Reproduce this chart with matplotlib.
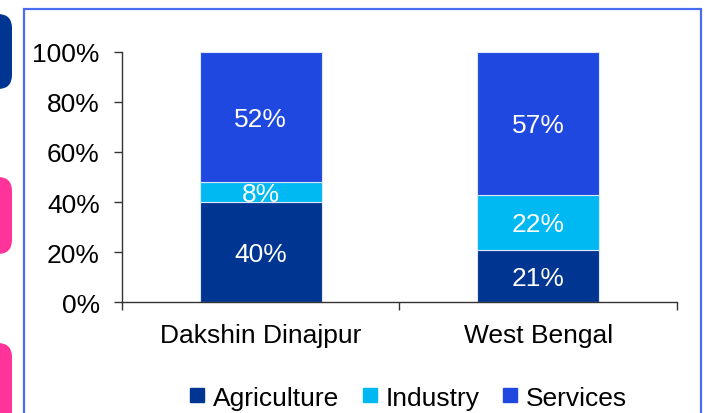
import matplotlib.pyplot as plt
import numpy as np
from matplotlib.patches import Rectangle, FancyBboxPatch
from matplotlib.lines import Line2D

plt.rcParams['font.family'] = ['Liberation Sans', 'DejaVu Sans']

regions = ["Dakshin Dinajpur", "West Bengal"]
sectors = ["Agriculture", "Industry", "Services"]
agriculture = [40, 21]
industry = [8, 22]
services = [52, 57]
yticks = [0, 20, 40, 60, 80, 100]
colors = ["#003591", "#00B9F2", "#1F48E0"]

fig = plt.figure(figsize=(7.05, 4.14), dpi=100)
ax = fig.add_axes([0.1730, 0.2681, 0.7872, 0.6039])

x = np.arange(len(regions))
bottom = np.zeros(len(regions))
for vals, col in zip([agriculture, industry, services], colors):
    vals = np.array(vals, dtype=float)
    ax.bar(x, vals, 0.44, bottom=bottom, color=col, edgecolor="#dfe6f7", linewidth=0.8)
    for xi, b, v in zip(x, bottom, vals):
        ax.text(xi, b + v / 2 - 0.7, f"{int(v)}%", ha="center", va="center",
                color="white", fontsize=19)
    bottom += vals

ax.set_xlim(-0.5, 1.5)
ax.set_ylim(0, 100)
ax.set_yticks(yticks)
ax.set_yticklabels([f"{t}%" for t in yticks], fontsize=19)
ax.set_xticks(x)
ax.set_xticklabels(regions, fontsize=19)
ax.set_xticks([-0.5, 0.5, 1.5], minor=True)
ax.tick_params(axis="x", which="major", length=0, pad=15)
ax.tick_params(axis="x", which="minor", length=6, width=1, color="#333333")
ax.tick_params(axis="y", length=6, width=1, color="#333333", pad=10)
for s in ["top", "right"]:
    ax.spines[s].set_visible(False)
for s in ["left", "bottom"]:
    ax.spines[s].set_color("#333333")
    ax.spines[s].set_linewidth(1)

handles = [Line2D([], [], marker="s", linestyle="none", markersize=9.5,
                  markerfacecolor=c, markeredgecolor=c) for c in colors]
fig.legend(handles, sectors, loc="center", bbox_to_anchor=(0.580, 0.037), ncol=3,
           frameon=False, fontsize=19, handlelength=0.5, handletextpad=0.35,
           columnspacing=0.9)

# slide frame and side tabs
fig.patches.append(Rectangle((24 / 705, -0.05), 677 / 705, 1 - 10 / 414 + 0.05,
                             transform=fig.transFigure, fill=False,
                             edgecolor="#4a6cf0", linewidth=1.6))
tabs = [(15, 90, "#003591"), (178, 255, "#FF3399"), (344, 440, "#FF3399")]
for top, bot, col in tabs:
    fig.patches.append(FancyBboxPatch((-20 / 705, 1 - bot / 414), 32 / 705, (bot - top) / 414,
                                      boxstyle="round,pad=0,rounding_size=0.02",
                                      transform=fig.transFigure, facecolor=col,
                                      edgecolor="none", mutation_aspect=705 / 414))

fig.savefig("out.png", dpi=100)
